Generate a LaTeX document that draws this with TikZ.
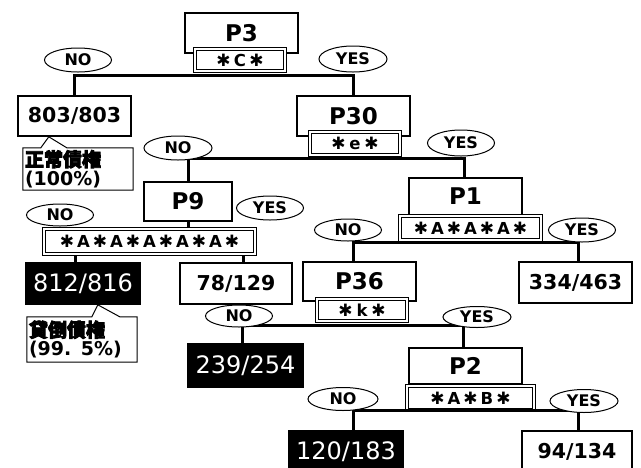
\documentclass[tikz,border=0pt]{standalone}
\usepackage{fontspec}
\usetikzlibrary{shapes.geometric}
\newfontfamily\latfont{DejaVu Sans}
\newfontfamily\jpfont{Noto Sans CJK JP}[FakeBold=4]
\newcommand\fsz[1]{\fontsize{#1}{#1}\selectfont}
\newcommand\st{\makebox[16.5pt]{\latfont\fsz{17}✱}}
\newcommand\lt[1]{\makebox[16.5pt]{#1}}

\begin{document}
\begin{tikzpicture}[x=1pt,y=-1pt,
    pbox/.style={draw,line width=1.2pt,fill=white,inner sep=0pt,font=\latfont\bfseries\fsz{23}},
    cbox/.style={draw,double=white,double distance=1.6pt,line width=1.1pt,fill=white,inner sep=0pt,font=\latfont\bfseries\fsz{16.5}},
    leaf/.style={draw,line width=1.2pt,fill=white,inner sep=0pt,minimum height=41pt,font=\latfont\bfseries\fsz{20.5}},
    badleaf/.style={leaf,fill=black,text=white,font=\latfont\fsz{24}},
    answer/.style={ellipse,draw,line width=1pt,fill=white,inner sep=0pt,minimum width=67pt,minimum height=24pt,font=\latfont\bfseries\fsz{16}},
    note/.style={inner sep=2pt,text width=106pt,align=left,font=\latfont\bfseries\fsz{19}},
    link/.style={line width=3pt}]
    \useasboundingbox (0,0) rectangle (641,467);
    \clip (0,0) rectangle (641,467);
    % questions
    \node[pbox,minimum width=113pt,minimum height=40pt] (p3) at (241.5,33) {P3};
    \node[cbox,minimum width=90pt,minimum height=22pt] (c3) at (240,60) {\st\lt{C}\st};
    \node[pbox,minimum width=113pt,minimum height=40pt] (p30) at (353.5,116) {P30};
    \node[cbox,minimum width=90pt,minimum height=23pt] (c30) at (355,143.5) {\st\lt{e}\st};
    \node[pbox,minimum width=88pt,minimum height=39pt] (p9) at (188,201.5) {P9};
    \node[cbox,minimum width=211pt,minimum height=25pt] (c9) at (149.5,241.5) {\st\lt{A}\st\lt{A}\st\lt{A}\st\lt{A}\st\lt{A}\st};
    \node[pbox,minimum width=113pt,minimum height=37pt] (p1) at (465.5,196.5) {P1};
    \node[cbox,minimum width=141pt,minimum height=24pt] (c1) at (470.5,228) {\st\lt{A}\st\lt{A}\st\lt{A}\st};
    \node[pbox,minimum width=113pt,minimum height=39pt] (p36) at (359.5,281.5) {P36};
    \node[cbox,minimum width=90pt,minimum height=22pt] (c36) at (362,310) {\st\lt{k}\st};
    \node[pbox,minimum width=113pt,minimum height=36pt] (p2) at (465.5,366) {P2};
    \node[cbox,minimum width=127pt,minimum height=24pt] (c2) at (470.5,398) {\st\lt{A}\st\lt{B}\st};
    % leaves
    \node[leaf,minimum width=113pt,minimum height=40pt] (n803) at (74.5,116) {803/803};
    \node[badleaf,minimum width=114pt] (n812) at (83,283.5) {812/816};
    \node[leaf,minimum width=112pt] (n78) at (236,283.5) {78/129};
    \node[leaf,minimum width=113pt] (n334) at (575.5,282.5) {334/463};
    \node[badleaf,minimum width=115pt,minimum height=43pt] (n239) at (245.5,365.5) {239/254};
    \node[badleaf,minimum width=114pt,minimum height=42pt] (n120) at (346,452) {120/183};
    \node[leaf,minimum width=110pt,minimum height=42pt] (n94) at (577,452) {94/134};
    % branches
    \draw[link] (n803.north) |- ([yshift=-4pt]c3.south) -| (p30.north);
    \draw[link] (p9.north) |- ([yshift=-3pt]c30.south) -| ([xshift=-1.5pt]p1.north);
    \draw[link] (p9.south) -- (p9.south |- c9.north);
    \draw[link] ([xshift=-8pt]n812.north) -- ([xshift=-8pt]n812.north |- c9.south);
    \draw[link] ([xshift=7pt]n78.north) -- ([xshift=7pt]n78.north |- c9.south);
    \draw[link] ([xshift=-6.5pt]p36.north) |- ([yshift=-2pt]c1.south) -| ([xshift=2.5pt]n334.north);
    \draw[link] ([xshift=-3.5pt]n239.north) |- ([yshift=-4pt]c36.south) -| ([xshift=-2.5pt]p2.north);
    \draw[link] ([xshift=7pt]n120.north) |- (c2.south) -| ([xshift=1pt]n94.north);
    % answers
    \node[answer] (no3) at (78,60) {NO};
    \node[answer,minimum width=68pt,minimum height=26pt] (yes3) at (353,59) {YES};
    \node[answer,minimum width=68pt] (no30) at (178,148) {NO};
    \node[answer,minimum height=26pt] (yes30) at (461,143) {YES};
    \node[answer,minimum height=22pt] (no9) at (60,215) {NO};
    \node[answer] (yes9) at (270,208) {YES};
    \node[answer,minimum height=22pt] (no1) at (348,230) {NO};
    \node[answer] (yes1) at (582,230) {YES};
    \node[answer,minimum height=22pt] (no36) at (239,316) {NO};
    \node[answer,minimum width=68pt,minimum height=21pt] (yes36) at (477,317) {YES};
    \node[answer,minimum width=70pt,minimum height=23pt] (no2) at (343,399) {NO};
    \node[answer,minimum width=68pt,minimum height=23pt] (yes2) at (584,401) {YES};
    % callouts
    \node[note,minimum height=42pt] (t803) at (78,169) {{\jpfont\fsz{19}正常債権}\\(100\%)};
    \draw[line width=1pt] (t803.north west) -- ([xshift=18pt]t803.north west)
      -- ([xshift=26pt,yshift=11pt]t803.north west) -- ([xshift=44pt]t803.north west)
      -- (t803.north east) -- (t803.south east) -- (t803.south west) -- cycle;
    \node[note,minimum height=45pt] (t812) at (82,339.5) {{\jpfont\fsz{19}貸倒債権}\\(99. 5\%)};
    \draw[line width=1pt] (t812.north west) -- ([xshift=65pt]t812.north west)
      -- ([xshift=71pt,yshift=12pt]t812.north west) -- ([xshift=93pt]t812.north west)
      -- (t812.north east) -- (t812.south east) -- (t812.south west) -- cycle;
\end{tikzpicture}
\end{document}
